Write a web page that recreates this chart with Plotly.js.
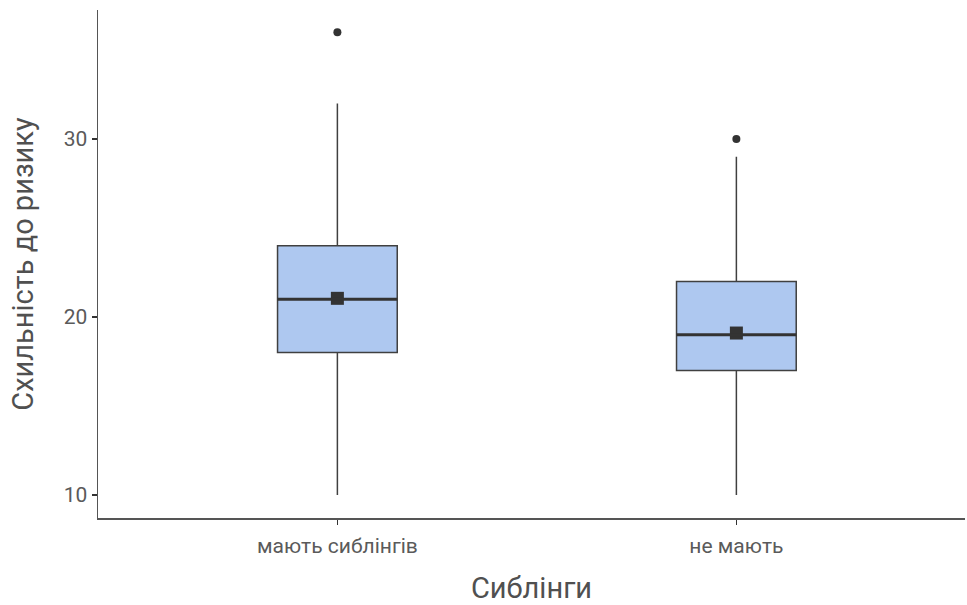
<!DOCTYPE html>
<html>
<head>
<meta charset="utf-8">
<script src="https://cdn.plot.ly/plotly-3.0.1.min.js"></script>
<style>html,body{margin:0;padding:0;background:#fff;}#chart{width:967px;height:605px;}</style>
</head>
<body>
<div id="chart"></div>
<script>
const categories = ["мають сиблінгів", "не мають"];
const q1 = [18, 17];
const medians = [21, 19];
const q3 = [24, 22];
const lowerWhisker = [10, 10];
const upperWhisker = [32, 29];
const means = [21.05, 19.1];
const outlierX = ["мають сиблінгів", "не мають"];
const outlierY = [36, 30];

const boxWidth = 0.3;
const font = "Roboto, 'Liberation Sans', Arial, sans-serif";

const traces = [
  {
    type: "box",
    x: categories,
    q1: q1,
    median: medians,
    q3: q3,
    lowerfence: lowerWhisker,
    upperfence: upperWhisker,
    boxpoints: false,
    width: boxWidth,
    whiskerwidth: 0,
    fillcolor: "#aec8f0",
    line: {color: "#404040", width: 1.5},
    hoverinfo: "skip",
    showlegend: false
  },
  {
    type: "scatter",
    mode: "markers",
    x: outlierX,
    y: outlierY,
    marker: {color: "#333333", size: 8, symbol: "circle"},
    showlegend: false
  },
  {
    type: "scatter",
    mode: "markers",
    x: categories,
    y: means,
    marker: {color: "#333333", size: 13, symbol: "square"},
    showlegend: false
  }
];

const shapes = medians.map((m, i) => ({
  type: "line", xref: "x", yref: "y",
  x0: i - boxWidth / 2, x1: i + boxWidth / 2, y0: m, y1: m,
  line: {color: "#333333", width: 3},
  layer: "above"
}));

const layout = {
  width: 967, height: 605,
  margin: {l: 98, r: 2, t: 10, b: 87},
  paper_bgcolor: "#ffffff",
  plot_bgcolor: "#ffffff",
  font: {family: font, color: "#4d4d4d"},
  showlegend: false,
  shapes: shapes,
  xaxis: {
    type: "category",
    range: [-0.6, 1.573],
    showline: true, linecolor: "#555555", linewidth: 1.5,
    showgrid: false, zeroline: false,
    ticks: "outside", ticklen: 5, tickcolor: "#333333", tickwidth: 1.5,
    ticklabelstandoff: 3,
    tickfont: {size: 21, color: "#5a5a5a", family: font},
    title: {text: "Сиблінги", font: {size: 29, color: "#505050", family: font}, standoff: 22},
    automargin: false
  },
  yaxis: {
    range: [8.708, 37.25],
    tickvals: [10, 20, 30],
    showline: true, linecolor: "#555555", linewidth: 1.5,
    showgrid: false, zeroline: false,
    ticks: "outside", ticklen: 5, tickcolor: "#333333", tickwidth: 1.5,
    tickfont: {size: 21, color: "#5a5a5a", family: font},
    title: {text: "Схильність до ризику", font: {size: 29, color: "#505050", family: font}, standoff: 21},
    automargin: false
  }
};

Plotly.newPlot("chart", traces, layout, {displayModeBar: false, staticPlot: true});
</script>
</body>
</html>
